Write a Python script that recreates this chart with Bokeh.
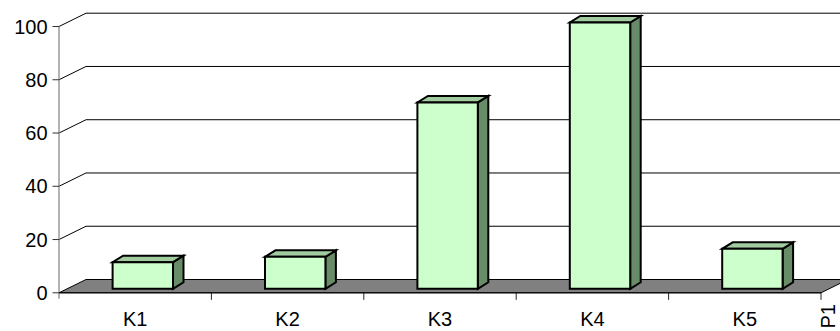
import numpy as np
from bokeh.plotting import figure
from bokeh.models import Range1d
from bokeh.core.properties import value
from bokeh.embed import file_html
from bokeh.resources import INLINE

# ---- data ----
categories = ["K1", "K2", "K3", "K4", "K5"]
values = [10, 12, 70, 100, 15]
y_ticks = [0, 20, 40, 60, 80, 100]
y_tick_labels = ["0", "20", "40", "60", "80", "100"]
series_names = ["P1"]

# ---- layout constants (pixels) ----
W, H = 840, 331
X0_PX = 58.5      # pixel of category axis start
CAT_PX = 152.4    # pixels per category
Y0_PX = 292.3     # pixel of value 0
VAL_PX = 2.663    # pixels per value unit

def dx(px):
    return px / CAT_PX

def dy(px):
    return px / VAL_PX

n = len(categories)
DX, DY = dx(27), dy(13.3)            # floor depth
FDX, FDY = dx(7.6), dy(4.0)          # bar front offset inside depth
BDX, BDY = dx(10.5), dy(6.5)         # bar depth
HW = dx(30.2)                        # bar half width

x_min, x_max = -X0_PX / CAT_PX, (W - X0_PX) / CAT_PX
y_min, y_max = -(H - Y0_PX) / VAL_PX, Y0_PX / VAL_PX

p = figure(width=W, height=H, x_range=Range1d(x_min, x_max), y_range=Range1d(y_min, y_max),
           output_backend="svg", toolbar_location=None, min_border=0,
           x_axis_type=None, y_axis_type=None, outline_line_color=None,
           background_fill_color="white", border_fill_color="white")
p.grid.visible = False

FONT = value("Liberation Sans")
FS = "20px"

# back wall gridlines (left wall diagonal + back horizontal)
gv = [v for v in y_ticks if v > 0]
p.segment(x0=[0] * len(gv), y0=gv, x1=[DX] * len(gv), y1=[v + DY for v in gv],
          line_color="black", line_width=1)
p.segment(x0=[DX] * len(gv), y0=[v + DY for v in gv], x1=[x_max + 1] * len(gv),
          y1=[v + DY for v in gv], line_color="black", line_width=1)

# floor
p.patch(x=[0, n, n + DX, DX], y=[0, 0, DY, DY], fill_color="#808080",
        line_color="black", line_width=1)

# value axis line and ticks
p.segment(x0=[0], y0=[y_ticks[-1]], x1=[0], y1=[-dy(6)], line_color="#808080", line_width=1.2)
p.segment(x0=[-dx(6.5)] * len(y_ticks), y0=y_ticks, x1=[0] * len(y_ticks), y1=y_ticks,
          line_color="#333333", line_width=1)
# category axis ticks
cb = list(range(1, n + 1))
p.segment(x0=cb, y0=[0] * len(cb), x1=cb, y1=[-dy(7)] * len(cb), line_color="#222222", line_width=1)
p.segment(x0=[0], y0=[0], x1=[n], y1=[0], line_color="black", line_width=1)

# bars
fx_l = [i + 0.5 + FDX - HW for i in range(n)]
fx_r = [i + 0.5 + FDX + HW for i in range(n)]
b = FDY
front_xs = [[l, r, r, l] for l, r in zip(fx_l, fx_r)]
front_ys = [[b, b, b + v, b + v] for v in values]
top_xs = [[l, r, r + BDX, l + BDX] for l, r in zip(fx_l, fx_r)]
top_ys = [[b + v, b + v, b + v + BDY, b + v + BDY] for v in values]
side_xs = [[r, r + BDX, r + BDX, r] for r in fx_r]
side_ys = [[b, b + BDY, b + v + BDY, b + v] for v in values]

p.patches(xs=side_xs, ys=side_ys, fill_color="#688C68", line_color="black", line_width=2, line_join="miter")
p.patches(xs=top_xs, ys=top_ys, fill_color="#A0CCA0", line_color="black", line_width=2, line_join="miter")
p.patches(xs=front_xs, ys=front_ys, fill_color="#CCFFCC", line_color="black", line_width=2, line_join="miter")

# category labels
p.text(x=[i + 0.5 for i in range(n)], y=[-dy(318 - Y0_PX)] * n, text=categories,
       text_font=FONT, text_font_size=FS, text_align="center", text_baseline="middle",
       text_color="black")
# value labels
p.text(x=[-dx(11.5)] * len(y_ticks), y=y_ticks, text=y_tick_labels,
       text_font=FONT, text_font_size=FS, text_align="right", text_baseline="middle",
       text_color="black")
# series (depth) axis label
p.text(x=[dx(827 - X0_PX)], y=[-dy(328 - Y0_PX)], text=series_names, angle=np.pi / 2,
       text_font=FONT, text_font_size=FS, text_align="left", text_baseline="middle",
       text_color="black")

open("out.html", "w").write(file_html(p, INLINE))
